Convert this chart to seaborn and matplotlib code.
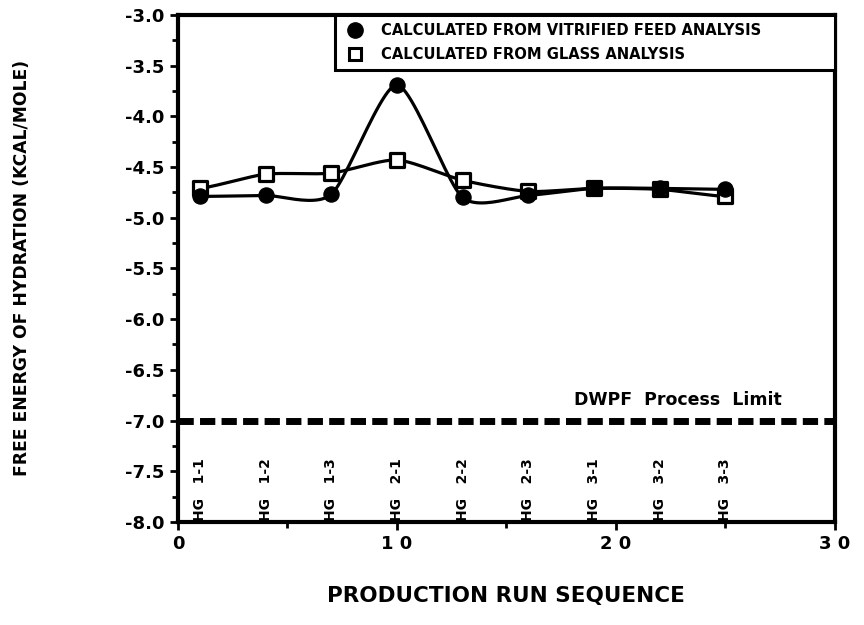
import numpy as np
import pandas as pd
import matplotlib
matplotlib.use("Agg")
import matplotlib.pyplot as plt
from matplotlib.lines import Line2D
from matplotlib.ticker import MultipleLocator, FixedLocator
import seaborn as sns

# ---- data ----
run_seq = [1, 4, 7, 10, 13, 16, 19, 22, 25]
run_labels = ["HG   1-1", "HG   1-2", "HG   1-3", "HG   2-1", "HG   2-2", "HG   2-3", "HG   3-1", "HG   3-2", "HG   3-3"]
vitrified_feed = [-4.79, -4.78, -4.77, -3.69, -4.80, -4.78, -4.71, -4.71, -4.72]
glass = [-4.71, -4.57, -4.56, -4.43, -4.63, -4.74, -4.71, -4.72, -4.79]
process_limit = -7.0
series_names = ["CALCULATED FROM VITRIFIED FEED ANALYSIS", "CALCULATED FROM GLASS ANALYSIS"]
x_tick_values = [0, 10, 20, 30]
x_tick_labels = ["0", "1 0", "2 0", "3 0"]


def smooth(xs, ys, n=24, c=0.35):
    """Cardinal-spline curve through the data points (drawing style only)."""
    xs = np.asarray(xs, float)
    ys = np.asarray(ys, float)
    px = np.concatenate([[2 * xs[0] - xs[1]], xs, [2 * xs[-1] - xs[-2]]])
    py = np.concatenate([[ys[0]], ys, [ys[-1]]])
    ox, oy = [], []
    t = np.linspace(0, 1, n, endpoint=False)
    h00 = 2 * t**3 - 3 * t**2 + 1
    h10 = t**3 - 2 * t**2 + t
    h01 = -2 * t**3 + 3 * t**2
    h11 = t**3 - t**2
    for i in range(1, len(px) - 2):
        for arr, out in ((px, ox), (py, oy)):
            p0, p1, p2, p3 = arr[i - 1], arr[i], arr[i + 1], arr[i + 2]
            m1 = c * (p2 - p0)
            m2 = c * (p3 - p1)
            out.extend(h00 * p1 + h10 * m1 + h01 * p2 + h11 * m2)
    ox.append(xs[-1]); oy.append(ys[-1])
    return np.array(ox), np.array(oy)


sns.set_theme(style="ticks")
FAM = ["DejaVu Sans"]
W = "bold"
plt.rcParams["font.family"] = FAM
plt.rcParams["font.weight"] = W
for k in ("text.color", "axes.labelcolor", "xtick.color", "ytick.color", "axes.edgecolor"):
    plt.rcParams[k] = "black"

fig = plt.figure(figsize=(8.64, 6.25), dpi=100)
ax = fig.add_axes([0.206, 0.165, 0.760, 0.811])

for ys in (vitrified_feed, glass):
    sx, sy = smooth(run_seq, ys)
    sns.lineplot(x=sx, y=sy, ax=ax, color="black", linewidth=2.3, sort=False, estimator=None)

sns.scatterplot(x=run_seq, y=glass, ax=ax, marker="s", s=100, facecolor="white",
                edgecolor="black", linewidth=2.3, zorder=5)
sns.scatterplot(x=run_seq, y=vitrified_feed, ax=ax, marker="o", s=120, color="black",
                edgecolor="black", zorder=6)

ax.axhline(process_limit, color="black", linewidth=5, linestyle=(0, (2.2, 0.9)), zorder=3)
ax.text(18.1, process_limit + 0.2, "DWPF  Process  Limit", fontsize=12.5, fontweight=W,
        ha="left", va="center")

for xv, lab in zip(run_seq, run_labels):
    ax.text(xv, -7.99, lab, rotation=90, ha="center", va="bottom", fontsize=10,
            fontweight=W)

ax.set_xlim(0, 30)
ax.set_ylim(-8.0, -3.0)
ax.xaxis.set_major_locator(FixedLocator(x_tick_values))
ax.set_xticklabels(x_tick_labels)
ax.xaxis.set_minor_locator(MultipleLocator(5))
ax.yaxis.set_major_locator(MultipleLocator(0.5))
ax.yaxis.set_minor_locator(MultipleLocator(0.25))
ax.yaxis.set_major_formatter(matplotlib.ticker.FormatStrFormatter("%.1f"))
ax.tick_params(axis="both", which="major", length=6, width=2, labelsize=13, direction="out",
               colors="black")
ax.tick_params(axis="both", which="minor", length=4, width=2, direction="out", colors="black")
for lab in ax.get_xticklabels() + ax.get_yticklabels():
    lab.set_fontweight(W)
for sp in ax.spines.values():
    sp.set_visible(True)
    sp.set_linewidth(3)
    sp.set_color("black")

ax.set_xlabel("PRODUCTION RUN SEQUENCE", fontsize=15.5, fontweight=W, labelpad=24, color="black")
ax.set_ylabel("FREE ENERGY OF HYDRATION (KCAL/MOLE)", fontsize=12.3, fontweight=W, labelpad=68,
              color="black")

handles = [
    Line2D([], [], marker="o", linestyle="none", color="black", markersize=11),
    Line2D([], [], marker="s", linestyle="none", markerfacecolor="white", markeredgecolor="black",
           markeredgewidth=2.2, markersize=9),
]
leg = ax.legend(handles, series_names, loc="upper left", bbox_to_anchor=(0.239, 0.0, 0.761, 1.0),
                mode="expand", frameon=True, fancybox=False, edgecolor="black", framealpha=1,
                prop={"weight": W, "size": 10.6, "family": FAM}, borderpad=0.55, handletextpad=1.0,
                labelspacing=0.6, borderaxespad=0.0, handlelength=1.6)
leg.get_frame().set_linewidth(2.2)
for t in leg.get_texts():
    t.set_color("black")

fig.savefig("out.png", dpi=100)
